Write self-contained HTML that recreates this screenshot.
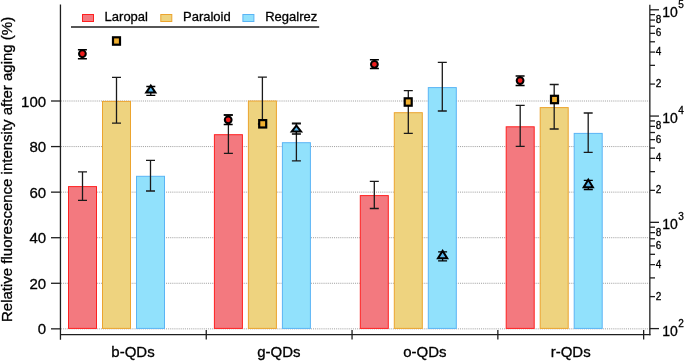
<!DOCTYPE html>
<html><head><meta charset="utf-8"><style>
html,body{margin:0;padding:0;background:#fff;}
svg{display:block;}
text{font-family:"Liberation Sans",sans-serif;fill:#000;stroke:#000;stroke-width:0.3px;}
.t14{font-size:14.5px;}
.t15{font-size:15px;}
.t13{font-size:13px;}
.t12{font-size:12.5px;}
.t10{font-size:10px;}
.t9{font-size:9.2px;}
.t10b{font-size:14px;}
</style></head><body>
<svg width="685" height="362" viewBox="0 0 685 362">
<rect width="685" height="362" fill="#fff"/>
<line x1="61" y1="283.28" x2="650" y2="283.28" stroke="#a0a0a0" stroke-width="1" stroke-dasharray="1.05,1.05"/>
<line x1="61" y1="237.71" x2="650" y2="237.71" stroke="#a0a0a0" stroke-width="1" stroke-dasharray="1.05,1.05"/>
<line x1="61" y1="192.14" x2="650" y2="192.14" stroke="#a0a0a0" stroke-width="1" stroke-dasharray="1.05,1.05"/>
<line x1="61" y1="146.57" x2="650" y2="146.57" stroke="#a0a0a0" stroke-width="1" stroke-dasharray="1.05,1.05"/>
<line x1="61" y1="101.00" x2="650" y2="101.00" stroke="#a0a0a0" stroke-width="1" stroke-dasharray="1.05,1.05"/>
<line x1="61" y1="328.85" x2="650" y2="328.85" stroke="#a0a0a0" stroke-width="1" stroke-dasharray="1.05,1.05"/>
<rect x="68.5" y="186.60" width="28" height="141.80" fill="#f3797f" stroke="#ff2020" stroke-width="1"/>
<rect x="102.5" y="101.40" width="28" height="227.00" fill="#eed37f" stroke="#eca42e" stroke-width="1"/>
<rect x="136.5" y="176.30" width="28" height="152.10" fill="#91e1fc" stroke="#5ab4f5" stroke-width="1"/>
<rect x="214.4" y="134.70" width="28" height="193.70" fill="#f3797f" stroke="#ff2020" stroke-width="1"/>
<rect x="248.4" y="101.00" width="28" height="227.40" fill="#eed37f" stroke="#eca42e" stroke-width="1"/>
<rect x="282.4" y="142.70" width="28" height="185.70" fill="#91e1fc" stroke="#5ab4f5" stroke-width="1"/>
<rect x="360.3" y="195.60" width="28" height="132.80" fill="#f3797f" stroke="#ff2020" stroke-width="1"/>
<rect x="394.3" y="112.70" width="28" height="215.70" fill="#eed37f" stroke="#eca42e" stroke-width="1"/>
<rect x="428.3" y="87.60" width="28" height="240.80" fill="#91e1fc" stroke="#5ab4f5" stroke-width="1"/>
<rect x="506.20000000000005" y="126.80" width="28" height="201.60" fill="#f3797f" stroke="#ff2020" stroke-width="1"/>
<rect x="540.2" y="107.60" width="28" height="220.80" fill="#eed37f" stroke="#eca42e" stroke-width="1"/>
<rect x="574.2" y="133.40" width="28" height="195.00" fill="#91e1fc" stroke="#5ab4f5" stroke-width="1"/>
<path d="M82.5 171.9V200.3M78.0 171.9H87.0M78.0 200.3H87.0" stroke="#1a1a1a" stroke-width="1.3" fill="none"/>
<path d="M116.5 77.4V123.1M112.0 77.4H121.0M112.0 123.1H121.0" stroke="#1a1a1a" stroke-width="1.3" fill="none"/>
<path d="M150.5 160.3V191.0M146.0 160.3H155.0M146.0 191.0H155.0" stroke="#1a1a1a" stroke-width="1.3" fill="none"/>
<path d="M228.4 115.0V153.3M223.9 115.0H232.9M223.9 153.3H232.9" stroke="#1a1a1a" stroke-width="1.3" fill="none"/>
<path d="M262.4 77.1V124.0M257.9 77.1H266.9M257.9 124.0H266.9" stroke="#1a1a1a" stroke-width="1.3" fill="none"/>
<path d="M296.4 123.8V160.8M291.9 123.8H300.9M291.9 160.8H300.9" stroke="#1a1a1a" stroke-width="1.3" fill="none"/>
<path d="M374.3 181.3V208.5M369.8 181.3H378.8M369.8 208.5H378.8" stroke="#1a1a1a" stroke-width="1.3" fill="none"/>
<path d="M408.3 90.6V133.4M403.8 90.6H412.8M403.8 133.4H412.8" stroke="#1a1a1a" stroke-width="1.3" fill="none"/>
<path d="M442.3 62.4V111.0M437.8 62.4H446.8M437.8 111.0H446.8" stroke="#1a1a1a" stroke-width="1.3" fill="none"/>
<path d="M520.2 105.4V146.3M515.7 105.4H524.7M515.7 146.3H524.7" stroke="#1a1a1a" stroke-width="1.3" fill="none"/>
<path d="M554.2 84.5V129.0M549.7 84.5H558.7M549.7 129.0H558.7" stroke="#1a1a1a" stroke-width="1.3" fill="none"/>
<path d="M588.2 113.0V152.3M583.7 113.0H592.7M583.7 152.3H592.7" stroke="#1a1a1a" stroke-width="1.3" fill="none"/>
<path d="M77.9 49.699999999999996H86.9M77.9 58.699999999999996H86.9M82.4 49.3V58.3" stroke="#000" stroke-width="1.5" fill="none"/>
<circle cx="82.4" cy="53.75" r="3.4" fill="#ee1c1c" stroke="#000" stroke-width="2"/>
<path d="M223.7 115.0H232.7M223.7 124.60000000000001H232.7M228.2 114.6V124.2" stroke="#000" stroke-width="1.5" fill="none"/>
<circle cx="228.2" cy="119.85" r="3.4" fill="#ee1c1c" stroke="#000" stroke-width="2"/>
<path d="M369.9 59.8H378.9M369.9 68.60000000000001H378.9M374.4 59.4V68.2" stroke="#000" stroke-width="1.5" fill="none"/>
<circle cx="374.4" cy="64.35" r="3.4" fill="#ee1c1c" stroke="#000" stroke-width="2"/>
<path d="M515.6 75.9H524.6M515.6 85.5H524.6M520.1 75.5V85.1" stroke="#000" stroke-width="1.5" fill="none"/>
<circle cx="520.1" cy="80.55" r="3.4" fill="#ee1c1c" stroke="#000" stroke-width="2"/>
<rect x="113.0" y="37.3" width="7.0" height="7.4" fill="#f0b030" stroke="#000" stroke-width="2.2"/>
<rect x="259.2" y="120.1" width="7.0" height="7.4" fill="#f0b030" stroke="#000" stroke-width="2.2"/>
<rect x="404.7" y="98.3" width="7.0" height="7.4" fill="#f0b030" stroke="#000" stroke-width="2.2"/>
<rect x="551.0" y="95.8" width="7.0" height="7.4" fill="#f0b030" stroke="#000" stroke-width="2.2"/>
<path d="M146.3 86.5H155.3M146.3 95.4H155.3M150.8 86.5V95.4" stroke="#000" stroke-width="1.3" fill="none"/>
<path d="M150.8 85.6L155.4 92.6H146.20000000000002Z" fill="#58b8ef" stroke="#000" stroke-width="2" stroke-linejoin="miter"/>
<path d="M291.9 123.2H300.9M291.9 134.0H300.9M296.4 123.2V134.0" stroke="#000" stroke-width="1.3" fill="none"/>
<path d="M296.4 125.69999999999999L301.0 131.4H291.79999999999995Z" fill="#58b8ef" stroke="#000" stroke-width="2" stroke-linejoin="miter"/>
<path d="M438.1 251.9H447.1M438.1 260.9H447.1M442.6 251.9V260.9" stroke="#000" stroke-width="1.3" fill="none"/>
<path d="M442.6 250.9L447.20000000000005 258.2H438.0Z" fill="#58b8ef" stroke="#000" stroke-width="2" stroke-linejoin="miter"/>
<path d="M583.8 180.4H592.8M583.8 189.5H592.8M588.3 180.4V189.5" stroke="#000" stroke-width="1.3" fill="none"/>
<path d="M588.3 179.7L592.9 187.3H583.6999999999999Z" fill="#58b8ef" stroke="#000" stroke-width="2" stroke-linejoin="miter"/>
<line x1="60.45" y1="4.5" x2="60.45" y2="339.8" stroke="#1e1e1e" stroke-width="1.3"/>
<line x1="60" y1="334.55" x2="650.5" y2="334.55" stroke="#1e1e1e" stroke-width="1.3"/>
<line x1="649.85" y1="4.8" x2="649.85" y2="335.2" stroke="#1e1e1e" stroke-width="1.3"/>
<line x1="206.25" y1="330" x2="206.25" y2="339.5" stroke="#1e1e1e" stroke-width="1.3"/>
<line x1="352.05" y1="330" x2="352.05" y2="339.5" stroke="#1e1e1e" stroke-width="1.3"/>
<line x1="497.85" y1="330" x2="497.85" y2="339.5" stroke="#1e1e1e" stroke-width="1.3"/>
<line x1="643.6500000000001" y1="330" x2="643.6500000000001" y2="339.5" stroke="#1e1e1e" stroke-width="1.3"/>
<line x1="51" y1="328.85" x2="60" y2="328.85" stroke="#1e1e1e" stroke-width="1.3"/>
<line x1="51" y1="283.28" x2="60" y2="283.28" stroke="#1e1e1e" stroke-width="1.3"/>
<line x1="51" y1="237.71" x2="60" y2="237.71" stroke="#1e1e1e" stroke-width="1.3"/>
<line x1="51" y1="192.14" x2="60" y2="192.14" stroke="#1e1e1e" stroke-width="1.3"/>
<line x1="51" y1="146.57" x2="60" y2="146.57" stroke="#1e1e1e" stroke-width="1.3"/>
<line x1="51" y1="101.00" x2="60" y2="101.00" stroke="#1e1e1e" stroke-width="1.3"/>
<line x1="650" y1="328.60" x2="659" y2="328.60" stroke="#1e1e1e" stroke-width="1.3"/>
<line x1="650" y1="296.61" x2="655" y2="296.61" stroke="#1e1e1e" stroke-width="1.3"/>
<line x1="650" y1="277.90" x2="655" y2="277.90" stroke="#1e1e1e" stroke-width="1.3"/>
<line x1="650" y1="264.62" x2="655" y2="264.62" stroke="#1e1e1e" stroke-width="1.3"/>
<line x1="650" y1="254.32" x2="655" y2="254.32" stroke="#1e1e1e" stroke-width="1.3"/>
<line x1="650" y1="245.91" x2="655" y2="245.91" stroke="#1e1e1e" stroke-width="1.3"/>
<line x1="650" y1="238.79" x2="655" y2="238.79" stroke="#1e1e1e" stroke-width="1.3"/>
<line x1="650" y1="232.63" x2="655" y2="232.63" stroke="#1e1e1e" stroke-width="1.3"/>
<line x1="650" y1="227.19" x2="655" y2="227.19" stroke="#1e1e1e" stroke-width="1.3"/>
<line x1="650" y1="222.33" x2="659" y2="222.33" stroke="#1e1e1e" stroke-width="1.3"/>
<line x1="650" y1="190.34" x2="655" y2="190.34" stroke="#1e1e1e" stroke-width="1.3"/>
<line x1="650" y1="171.63" x2="655" y2="171.63" stroke="#1e1e1e" stroke-width="1.3"/>
<line x1="650" y1="158.35" x2="655" y2="158.35" stroke="#1e1e1e" stroke-width="1.3"/>
<line x1="650" y1="148.05" x2="655" y2="148.05" stroke="#1e1e1e" stroke-width="1.3"/>
<line x1="650" y1="139.64" x2="655" y2="139.64" stroke="#1e1e1e" stroke-width="1.3"/>
<line x1="650" y1="132.52" x2="655" y2="132.52" stroke="#1e1e1e" stroke-width="1.3"/>
<line x1="650" y1="126.36" x2="655" y2="126.36" stroke="#1e1e1e" stroke-width="1.3"/>
<line x1="650" y1="120.92" x2="655" y2="120.92" stroke="#1e1e1e" stroke-width="1.3"/>
<line x1="650" y1="116.06" x2="659" y2="116.06" stroke="#1e1e1e" stroke-width="1.3"/>
<line x1="650" y1="84.07" x2="655" y2="84.07" stroke="#1e1e1e" stroke-width="1.3"/>
<line x1="650" y1="65.36" x2="655" y2="65.36" stroke="#1e1e1e" stroke-width="1.3"/>
<line x1="650" y1="52.08" x2="655" y2="52.08" stroke="#1e1e1e" stroke-width="1.3"/>
<line x1="650" y1="41.78" x2="655" y2="41.78" stroke="#1e1e1e" stroke-width="1.3"/>
<line x1="650" y1="33.37" x2="655" y2="33.37" stroke="#1e1e1e" stroke-width="1.3"/>
<line x1="650" y1="26.25" x2="655" y2="26.25" stroke="#1e1e1e" stroke-width="1.3"/>
<line x1="650" y1="20.09" x2="655" y2="20.09" stroke="#1e1e1e" stroke-width="1.3"/>
<line x1="650" y1="14.65" x2="655" y2="14.65" stroke="#1e1e1e" stroke-width="1.3"/>
<line x1="650" y1="9.79" x2="659" y2="9.79" stroke="#1e1e1e" stroke-width="1.3"/>
<line x1="71" y1="27" x2="319.2" y2="27" stroke="#1e1e1e" stroke-width="1.3"/>
<rect x="82.5" y="14.5" width="11" height="7" fill="#f3797f" stroke="#ff2020" stroke-width="1"/>
<rect x="160.8" y="14.5" width="11" height="7" fill="#eed37f" stroke="#eca42e" stroke-width="1"/>
<rect x="242.9" y="14.5" width="11" height="7" fill="#91e1fc" stroke="#5ab4f5" stroke-width="1"/>
<g style="filter:grayscale(1)">
<text x="46.1" y="334.35" text-anchor="end" class="t15">0</text>
<text x="46.1" y="288.78" text-anchor="end" class="t15">20</text>
<text x="46.1" y="243.21" text-anchor="end" class="t15">40</text>
<text x="46.1" y="197.64" text-anchor="end" class="t15">60</text>
<text x="46.1" y="152.07" text-anchor="end" class="t15">80</text>
<text x="46.1" y="106.50" text-anchor="end" class="t15">100</text>
<text x="655.7" y="299.61" class="t10">2</text>
<text x="655.7" y="267.62" class="t10">4</text>
<text x="655.7" y="248.91" class="t10">6</text>
<text x="655.7" y="235.63" class="t10">8</text>
<text x="655.7" y="193.34" class="t10">2</text>
<text x="655.7" y="161.35" class="t10">4</text>
<text x="655.7" y="142.64" class="t10">6</text>
<text x="655.7" y="129.36" class="t10">8</text>
<text x="655.7" y="87.07" class="t10">2</text>
<text x="655.7" y="55.08" class="t10">4</text>
<text x="655.7" y="36.37" class="t10">6</text>
<text x="655.7" y="23.09" class="t10">8</text>
<text x="662.2" y="335.50" class="t10b">10</text>
<text x="678.2" y="326.70" class="t10">2</text>
<text x="662.2" y="229.23" class="t10b">10</text>
<text x="678.2" y="220.43" class="t10">3</text>
<text x="662.2" y="122.96" class="t10b">10</text>
<text x="678.2" y="114.16" class="t10">4</text>
<text x="662.2" y="16.69" class="t10b">10</text>
<text x="678.2" y="7.89" class="t10">5</text>
<text x="133.0" y="357.4" text-anchor="middle" class="t15">b-QDs</text>
<text x="278.9" y="357.4" text-anchor="middle" class="t15">g-QDs</text>
<text x="424.8" y="357.4" text-anchor="middle" class="t15">o-QDs</text>
<text x="570.7" y="357.4" text-anchor="middle" class="t15">r-QDs</text>
<text transform="translate(12.4,322) rotate(-90)" class="t15">Relative fluorescence intensity after aging (%)</text>
<text x="104.6" y="21.3" class="t13">Laropal</text>
<text x="183.0" y="21.3" class="t13">Paraloid</text>
<text x="265.2" y="21.3" class="t13">Regalrez</text>
</g>
</svg>
</body></html>
